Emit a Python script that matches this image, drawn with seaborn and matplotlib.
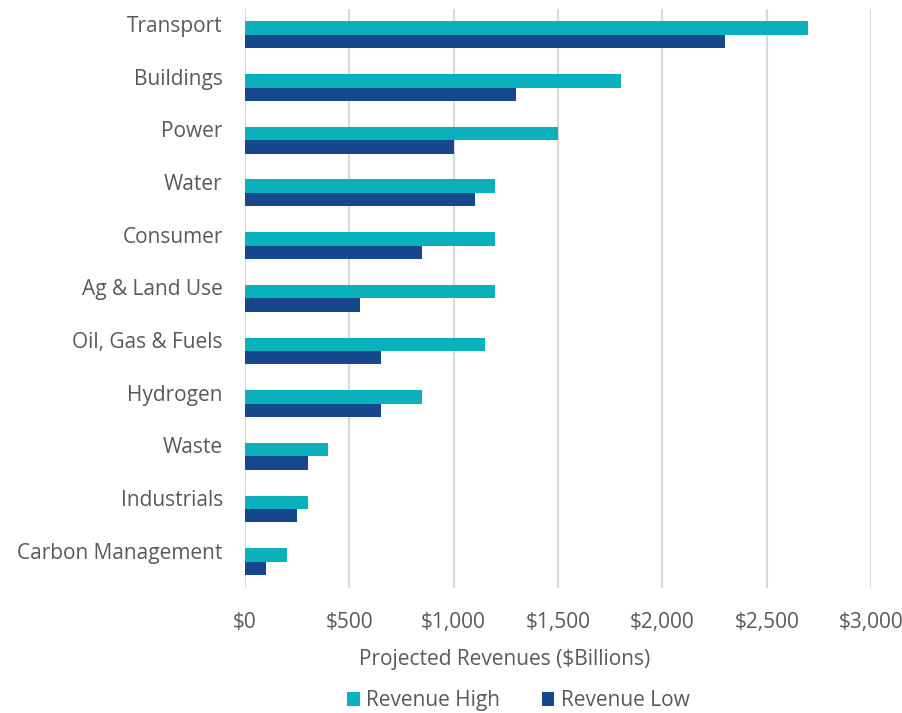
import pandas as pd
import seaborn as sns
import matplotlib.pyplot as plt
import matplotlib.transforms as mtransforms

categories = ['Transport', 'Buildings', 'Power', 'Water', 'Consumer', 'Ag & Land Use',
              'Oil, Gas & Fuels', 'Hydrogen', 'Waste', 'Industrials', 'Carbon Management']
revenue_high = [2700, 1800, 1500, 1200, 1200, 1200, 1150, 850, 400, 300, 200]
revenue_low = [2300, 1300, 1000, 1100, 850, 550, 650, 650, 300, 250, 100]
x_ticks = [0, 500, 1000, 1500, 2000, 2500, 3000]

df = pd.DataFrame({
    'Category': categories * 2,
    'Value': revenue_high + revenue_low,
    'Series': ['Revenue High'] * len(categories) + ['Revenue Low'] * len(categories),
})

sns.set_style('white')
plt.rcParams['font.family'] = ['Open Sans', 'DejaVu Sans']
text_color = '#595959'
fs = 15

fig = plt.figure(figsize=(9.03, 7.13), dpi=100)
ax = fig.add_axes([0.2713, 0.1753, 0.6933, 0.8127])

sns.barplot(data=df, y='Category', x='Value', hue='Series', orient='h',
            palette=['#0BB0BD', '#17478C'], width=0.51, errorbar=None,
            saturation=1, linewidth=0, ax=ax, zorder=3)

ax.set_xlim(0, 3000)
ax.set_xticks(x_ticks)
ax.set_xticklabels([f'${v:,}' for v in x_ticks])
ax.grid(axis='x', color='#D9D9D9', linewidth=1.5, zorder=0)
ax.grid(axis='y', visible=False)
for s in ax.spines.values():
    s.set_visible(False)
ax.tick_params(axis='both', length=0, labelsize=fs, labelcolor=text_color)
ax.tick_params(axis='x', pad=17)
ax.tick_params(axis='y', pad=16)

# Excel-style: category labels sit above the group centre
offset = mtransforms.ScaledTranslation(0, 11 / 100, fig.dpi_scale_trans)
for lbl in ax.get_yticklabels():
    lbl.set_transform(lbl.get_transform() + offset)

ax.set_ylabel('')
ax.set_xlabel('Projected Revenues ($Billions)', fontsize=fs, color=text_color)
ax.xaxis.set_label_coords(0.415, -0.106)

ax.get_legend().remove()
handles, labels = ax.get_legend_handles_labels()
fig.legend(handles, labels, loc='center', bbox_to_anchor=(0.574, 0.017), ncol=2,
           frameon=False, fontsize=fs, labelcolor=text_color, handlelength=0.6,
           handleheight=0.6, handletextpad=0.3, columnspacing=2.0)

fig.savefig('out.png', dpi=100)
